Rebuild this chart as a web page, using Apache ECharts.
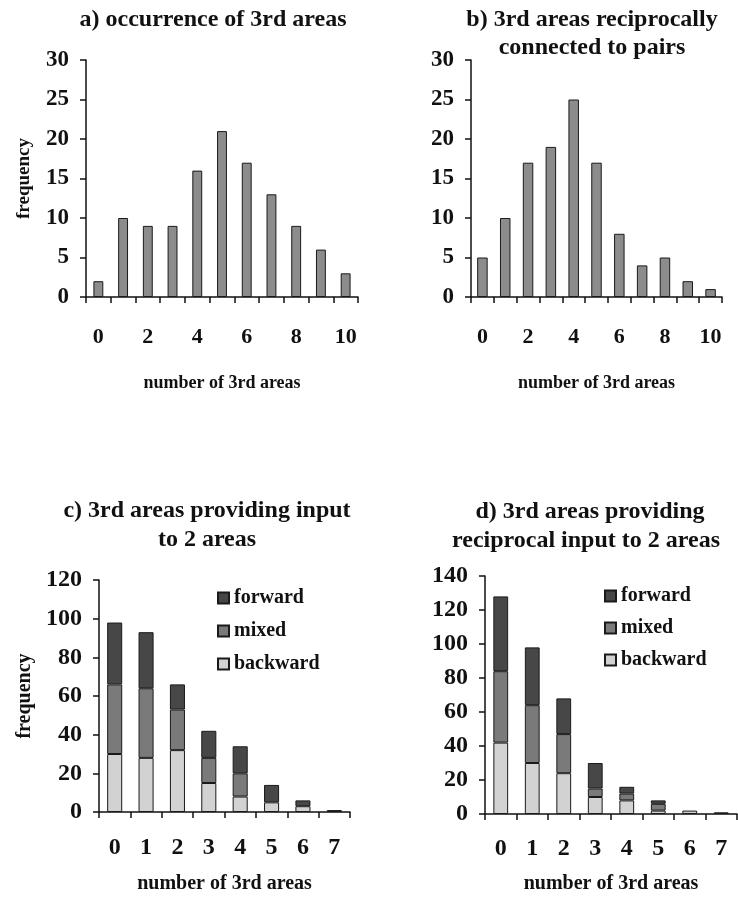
<!DOCTYPE html>
<html>
<head>
<meta charset="utf-8">
<script src="https://cdn.jsdelivr.net/npm/echarts@6/dist/echarts.min.js"></script>
<style>html,body{margin:0;padding:0;background:#fff;}#c{width:738px;height:904px;}</style>
</head>
<body>
<div id="c"></div>
<script>
// ---- data ----
const catsAB = ['0','1','2','3','4','5','6','7','8','9','10'];
const valsA = [2, 10, 9, 9, 16, 21, 17, 13, 9, 6, 3];
const valsB = [5, 10, 17, 19, 25, 17, 8, 4, 5, 2, 1];
const catsCD = ['0','1','2','3','4','5','6','7'];
const backwardC = [30, 28, 32, 15, 8, 5, 3, 0];
const mixedC    = [36, 36, 21, 13, 12, 0, 0, 0];
const forwardC  = [32, 29, 13, 14, 14, 9, 3, 1];
const backwardD = [42, 30, 24, 10, 8, 2, 2, 0];
const mixedD    = [42, 34, 23, 5, 4, 4, 0, 1];
const forwardD  = [44, 34, 21, 15, 4, 2, 0, 0];
const legendNames = ['forward', 'mixed', 'backward'];

const FONT = 'Liberation Serif';
const COL_BAR = '#8c8c8c', COL_FWD = '#474747', COL_MIX = '#7a7a7a', COL_BWD = '#d2d2d2';
const nz = a => a.map(v => v === 0 ? null : v);

function xAx(idx, cats, labelInterval, fs, margin, nameFs, nameGap) {
  return {
    type: 'category', gridIndex: idx, data: cats,
    name: 'number of 3rd areas', nameLocation: 'middle', nameGap: nameGap,
    nameTextStyle: {fontFamily: FONT, fontWeight: 'bold', fontSize: nameFs, color: '#111'},
    axisLine: {lineStyle: {color: '#111', width: 1.5}},
    axisTick: {show: true, interval: 0, length: 6, lineStyle: {color: '#111', width: 1.5}},
    axisLabel: {interval: labelInterval, fontFamily: FONT, fontWeight: 'bold', fontSize: fs, color: '#111', margin: margin}
  };
}
function yAx(idx, max, interval, fs, name, nameFs, nameGap) {
  return {
    type: 'value', gridIndex: idx, min: 0, max: max, interval: interval,
    name: name, nameLocation: 'middle', nameGap: nameGap, nameRotate: 90,
    nameTextStyle: {fontFamily: FONT, fontWeight: 'bold', fontSize: nameFs, color: '#111'},
    axisLine: {show: true, lineStyle: {color: '#111', width: 1.5}},
    axisTick: {show: true, length: 6, lineStyle: {color: '#111', width: 1.5}},
    splitLine: {show: false},
    axisLabel: {fontFamily: FONT, fontWeight: 'bold', fontSize: fs, color: '#111', margin: 17}
  };
}
const border = {borderColor: '#1a1a1a', borderWidth: 1};

const titleStyle = (x, y, text, fs) => ({
  type: 'text', x: x, y: y,
  style: {text: text, fontFamily: FONT, fontWeight: 'bold', fontSize: fs, fill: '#111', textAlign: 'center', textVerticalAlign: 'middle'}
});

const option = {
  animation: false,
  backgroundColor: '#fff',
  grid: [
    {left: 86, top: 60, width: 272, height: 237},
    {left: 471, top: 60, width: 251, height: 237},
    {left: 99, top: 580, width: 251, height: 232},
    {left: 485, top: 576, width: 252, height: 238}
  ],
  xAxis: [
    xAx(0, catsAB, 1, 22, 29, 18, 77),
    xAx(1, catsAB, 1, 22, 29, 18, 77),
    xAx(2, catsCD, 0, 24, 24, 20, 62),
    xAx(3, catsCD, 0, 24, 23, 20, 60)
  ],
  yAxis: [
    yAx(0, 30, 5, 23, 'frequency', 19, 52),
    yAx(1, 30, 5, 23, '', 19, 52),
    yAx(2, 120, 20, 24, 'frequency', 20, 64),
    yAx(3, 140, 20, 24, '', 20, 64)
  ],
  legend: [
    {data: legendNames, orient: 'vertical', left: 212, top: 583, itemWidth: 11, itemHeight: 11, itemGap: 13,
     icon: 'rect', selectedMode: false,
     textStyle: {fontFamily: FONT, fontWeight: 'bold', fontSize: 20, color: '#111'}},
    {data: legendNames, orient: 'vertical', left: 599, top: 581, itemWidth: 11, itemHeight: 11, itemGap: 12,
     icon: 'rect', selectedMode: false,
     textStyle: {fontFamily: FONT, fontWeight: 'bold', fontSize: 20, color: '#111'}}
  ],
  series: [
    {type: 'bar', xAxisIndex: 0, yAxisIndex: 0, data: valsA, barWidth: '40%', itemStyle: Object.assign({color: COL_BAR}, border)},
    {type: 'bar', xAxisIndex: 1, yAxisIndex: 1, data: valsB, barWidth: '46%', itemStyle: Object.assign({color: COL_BAR}, border)},
    {type: 'bar', name: 'backward', stack: 'c', xAxisIndex: 2, yAxisIndex: 2, data: nz(backwardC), barWidth: '48%', itemStyle: Object.assign({color: COL_BWD}, border)},
    {type: 'bar', name: 'mixed', stack: 'c', xAxisIndex: 2, yAxisIndex: 2, data: nz(mixedC), barWidth: '48%', itemStyle: Object.assign({color: COL_MIX}, border)},
    {type: 'bar', name: 'forward', stack: 'c', xAxisIndex: 2, yAxisIndex: 2, data: nz(forwardC), barWidth: '48%', itemStyle: Object.assign({color: COL_FWD}, border)},
    {type: 'bar', name: 'backward', stack: 'd', xAxisIndex: 3, yAxisIndex: 3, data: nz(backwardD), barWidth: '47%', itemStyle: Object.assign({color: COL_BWD}, border)},
    {type: 'bar', name: 'mixed', stack: 'd', xAxisIndex: 3, yAxisIndex: 3, data: nz(mixedD), barWidth: '47%', itemStyle: Object.assign({color: COL_MIX}, border)},
    {type: 'bar', name: 'forward', stack: 'd', xAxisIndex: 3, yAxisIndex: 3, data: nz(forwardD), barWidth: '47%', itemStyle: Object.assign({color: COL_FWD}, border)}
  ],
  graphic: [
    titleStyle(213, 20, 'a) occurrence of 3rd areas', 24),
    titleStyle(592, 20, 'b) 3rd areas reciprocally', 24),
    titleStyle(592, 48, 'connected to pairs', 24),
    titleStyle(207, 511, 'c) 3rd areas providing input', 24),
    titleStyle(207, 540, 'to 2 areas', 24),
    titleStyle(590, 512, 'd) 3rd areas providing', 24),
    titleStyle(586, 541, 'reciprocal input to 2 areas', 24)
  ]
};
const chart = echarts.init(document.getElementById('c'), null, {renderer: 'canvas'});
chart.setOption(option);
</script>
</body>
</html>
